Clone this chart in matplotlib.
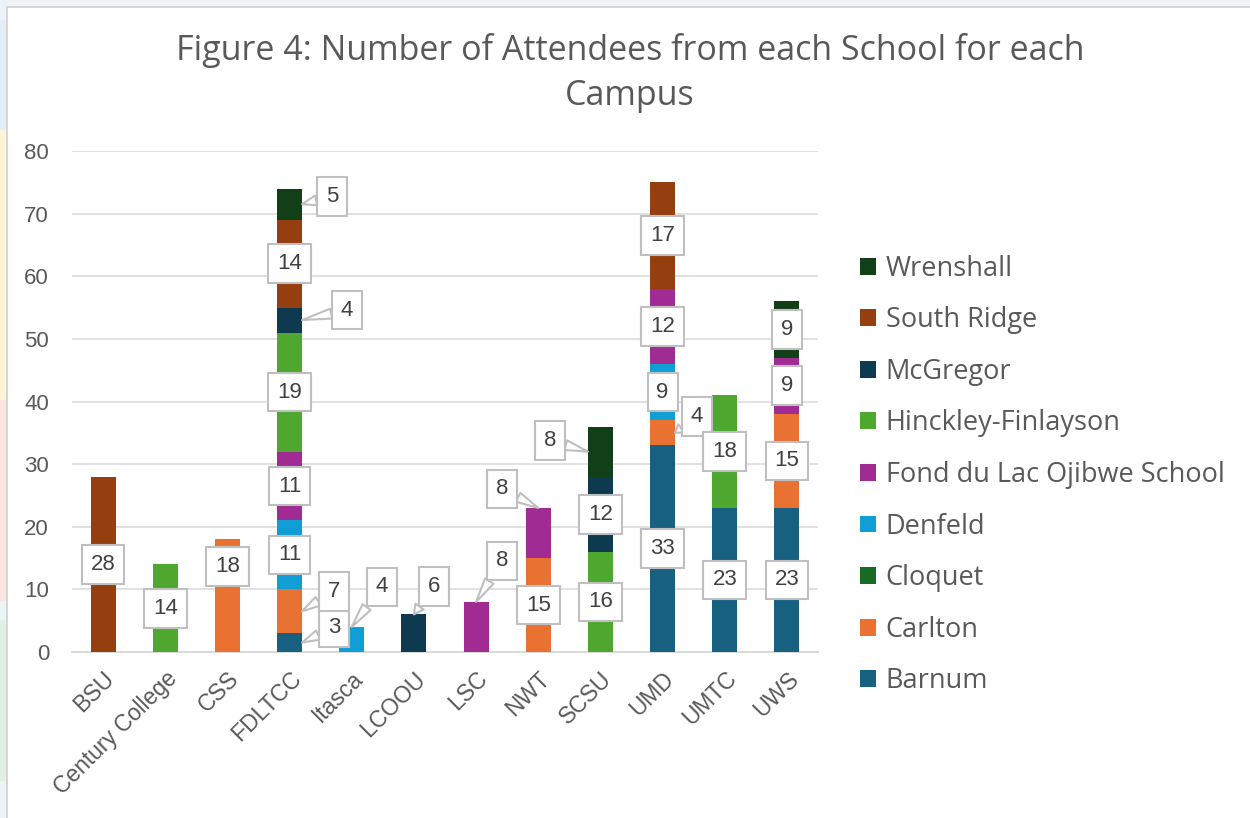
import matplotlib.pyplot as plt
import matplotlib as mpl
import numpy as np
from matplotlib.patches import Rectangle, Patch

# ── Data ────────────────────────────────────────────────────
campuses = ['BSU', 'Century College', 'CSS', 'FDLTCC', 'Itasca', 'LCOOU',
            'LSC', 'NWT', 'SCSU', 'UMD', 'UMTC', 'UWS']

barnum      = [0, 0, 0, 3, 0, 0, 0, 0, 0, 33, 23, 23]
carlton     = [0, 0, 18, 7, 0, 0, 0, 15, 0, 4, 0, 15]
cloquet     = [0, 0, 0, 0, 0, 0, 0, 0, 0, 0, 0, 0]
denfeld     = [0, 0, 0, 11, 4, 0, 0, 0, 0, 9, 0, 0]
fond_du_lac = [0, 0, 0, 11, 0, 0, 8, 8, 0, 12, 0, 9]
hinckley    = [0, 14, 0, 19, 0, 0, 0, 0, 16, 0, 18, 0]
mcgregor    = [0, 0, 0, 4, 0, 6, 0, 0, 12, 0, 0, 0]
south_ridge = [28, 0, 0, 14, 0, 0, 0, 0, 0, 17, 0, 0]
wrenshall   = [0, 0, 0, 5, 0, 0, 0, 0, 8, 0, 0, 9]

schools = ['Barnum', 'Carlton', 'Cloquet', 'Denfeld', 'Fond du Lac Ojibwe School',
           'Hinckley-Finlayson', 'McGregor', 'South Ridge', 'Wrenshall']
series = [barnum, carlton, cloquet, denfeld, fond_du_lac,
          hinckley, mcgregor, south_ridge, wrenshall]

colors = ['#17607F', '#E97132', '#196B24', '#0F9ED5', '#A02B93',
          '#4EA72E', '#0E3A50', '#953F10', '#113F18']

title = 'Figure 4: Number of Attendees from each School for each\nCampus'

# ── Callout layout: (campus idx, school) -> (anchor, dx px, dy px) ──
callouts = {
    (3, 'Wrenshall'): ('right', 30, 8),
    (3, 'McGregor'):  ('right', 45, 10),
    (3, 'Carlton'):   ('right', 32, 20),
    (3, 'Barnum'):    ('right', 32, 15),
    (4, 'Denfeld'):   ('top', 30, 40),
    (5, 'McGregor'):  ('top', 20, 28),
    (6, 'Fond du Lac Ojibwe School'): ('top', 26, 41),
    (7, 'Fond du Lac Ojibwe School'): ('top', -36, 19),
    (8, 'Wrenshall'): ('left', -38, 11),
    (9, 'Carlton'):   ('right', 22, 16),
    (2, 'Carlton'):   ('none', 0, 29),
}

TXT = '#595959'
LBL = '#404040'
EDGE = '#BFBFBF'
LBL_SIZE = 16

# ── Figure ──────────────────────────────────────────────────
fig = plt.figure(figsize=(12.5, 8.18), dpi=100)
fig.patch.set_facecolor('#EEF3F8')
W, H = 1250, 818

# pastel strip at the left + white chart frame
for y0, y1, c in [(20, 130, '#E4EEF7'), (130, 400, '#FFF5D6'),
                  (400, 600, '#FBE4E4'), (620, 780, '#E2EFE6')]:
    fig.patches.append(Rectangle((0, 1 - y1 / H), 7 / W, (y1 - y0) / H,
                                 transform=fig.transFigure, color=c, zorder=-2))
fig.patches.append(Rectangle((7 / W, -0.01), 1.0, 1 - 7 / H + 0.01,
                             transform=fig.transFigure, facecolor='white',
                             edgecolor='#D0D0D0', linewidth=1.2, zorder=-1))

ax = fig.add_axes([72 / W, 1 - 652 / H, (818 - 72) / W, (652 - 151) / H])
ax.set_facecolor('none')
ax.set_zorder(2)

x = np.arange(len(campuses))
bar_w = 0.4
bottom = np.zeros(len(campuses))
tops = {}
for name, vals, col in zip(schools, series, colors):
    vals = np.array(vals, dtype=float)
    ax.bar(x, vals, bottom=bottom, width=bar_w, color=col, zorder=3, label=name)
    tops[name] = (bottom.copy(), vals)
    bottom += vals

bbox = dict(boxstyle='square,pad=0.4', fc='white', ec=EDGE, lw=1.5)
txt_kw = dict(ha='center', va='center', fontsize=LBL_SIZE, color=LBL,
              family='Liberation Sans', bbox=bbox, zorder=6)
for name in schools:
    base, vals = tops[name]
    for i in range(len(campuses)):
        v = vals[i]
        if v <= 0:
            continue
        mid = base[i] + v / 2
        key = (i, name)
        if key in callouts:
            side, dx, dy = callouts[key]
            if side == 'none':
                ax.annotate(f'{int(v)}', xy=(i, mid), xytext=(dx, dy),
                            textcoords='offset pixels', **txt_kw)
                continue
            if side == 'top':
                xy = (i, base[i] + v)
            elif side == 'right':
                xy = (i + bar_w / 2, mid)
            else:
                xy = (i - bar_w / 2, mid)
            ax.annotate(f'{int(v)}', xy=xy, xytext=(dx, dy),
                        textcoords='offset pixels', **txt_kw,
                        arrowprops=dict(arrowstyle='wedge,tail_width=0.45,shrink_factor=0.5',
                                        fc='white', ec=EDGE, lw=1.5,
                                        shrinkA=0, shrinkB=0))
        else:
            ax.text(i, mid, f'{int(v)}', **txt_kw)

ax.set_xlim(-0.5, len(campuses) - 0.5)
ax.set_ylim(0, 80)
ax.set_yticks(np.arange(0, 81, 10))
ax.grid(axis='y', color='#D9D9D9', linewidth=1.1, zorder=0)
for s in ['top', 'right', 'left']:
    ax.spines[s].set_visible(False)
ax.spines['bottom'].set_color('#D9D9D9')
ax.spines['bottom'].set_linewidth(1.4)
ax.tick_params(axis='both', length=0, colors=TXT, labelsize=16.5)
ax.tick_params(axis='y', pad=16.5, labelsize=16)
ax.tick_params(axis='x', pad=11)
ax.set_xticks(x)
ax.set_xticklabels(campuses, rotation=45, ha='right', rotation_mode='anchor',
                   family='Liberation Sans')
for t in ax.get_yticklabels():
    t.set_family('Liberation Sans')

fig.text(0.504, 1 - 73 / H, title, ha='center', va='center', fontsize=24.5,
         color=TXT, family='Open Sans', linespacing=1.45)

handles = [Patch(facecolor=c, label=n) for n, c in zip(schools, colors)][::-1]
fig.legend(handles=handles, loc='center left', bbox_to_anchor=(836 / W, 1 - 475 / H),
           frameon=False, labelcolor=TXT, handlelength=0.58,
           handleheight=0.58, handletextpad=0.35, labelspacing=0.87,
           prop={'family': 'Open Sans', 'size': 19.5})

fig.savefig('out.png', dpi=100, facecolor=fig.get_facecolor())
